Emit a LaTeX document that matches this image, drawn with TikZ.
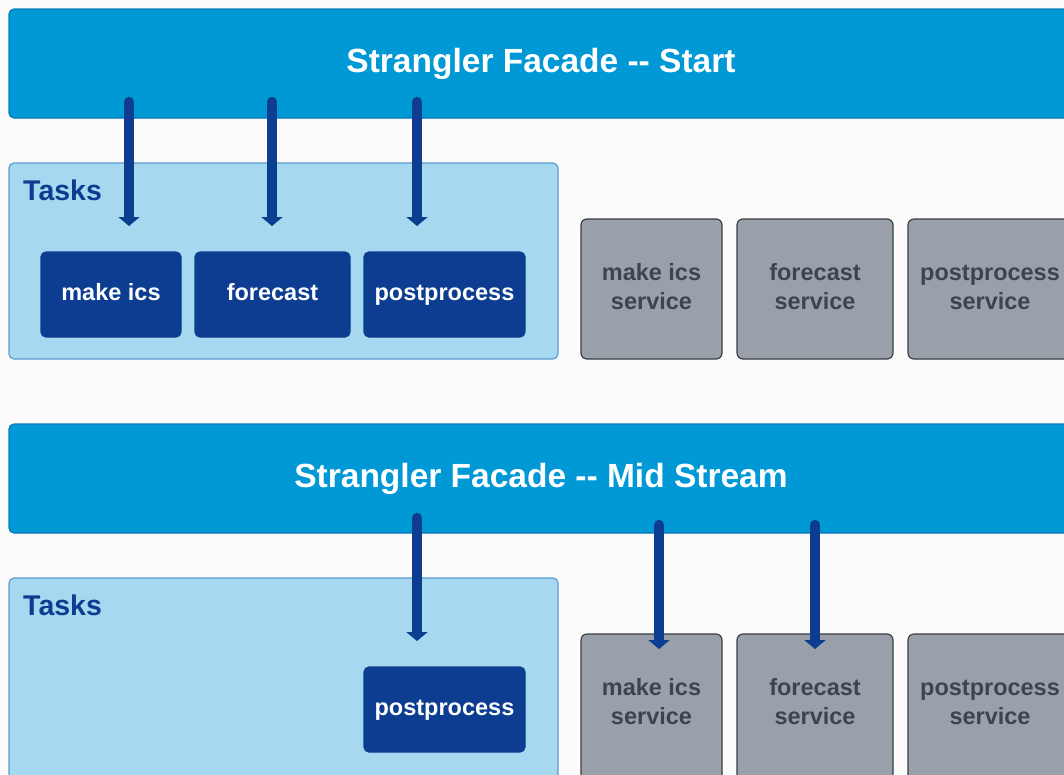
\documentclass[tikz,border=0pt]{standalone}
\usepackage{fontspec}
\setmainfont{Liberation Sans}
\usetikzlibrary{arrows.meta}
\definecolor{bgc}{HTML}{FBFBFB}
\definecolor{facadefill}{HTML}{0099D6}
\definecolor{facadeline}{HTML}{0A78B8}
\definecolor{tasksfill}{HTML}{A6D8EF}
\definecolor{tasksline}{HTML}{5A9BCF}
\definecolor{darkblue}{HTML}{0C3D91}
\definecolor{servfill}{HTML}{9AA0AA}
\definecolor{servline}{HTML}{3A3E45}
\definecolor{servtext}{HTML}{3D4451}
\tikzset{
  box/.style={rectangle, anchor=north west, outer sep=0pt, inner sep=0pt, line width=1.2pt},
  facadebox/.style={box, draw=facadeline, fill=facadefill, rounded corners=5pt,
    text=white, font=\bfseries\fontsize{33.5}{36}\selectfont},
  tasksbox/.style={box, draw=tasksline, fill=tasksfill, rounded corners=5pt},
  taskslabel/.style={anchor=west, inner sep=0pt, text=darkblue, font=\bfseries\fontsize{28.5}{30}\selectfont},
  taskbox/.style={box, draw=darkblue, fill=darkblue, rounded corners=5pt,
    text=white, text height=17pt, text depth=5pt, font=\bfseries\fontsize{23.5}{26}\selectfont},
  servbox/.style={box, draw=servline, fill=servfill, rounded corners=6pt,
    text=servtext, align=center, font=\bfseries\fontsize{23.5}{29}\selectfont},
  arr/.style={draw=darkblue, line width=10.5pt, line cap=round, -{Triangle[width=21pt,length=9pt]}},
}
\begin{document}
\begin{tikzpicture}[x=1pt,y=-1pt]
\useasboundingbox (0,0) rectangle (1064,774);
\clip (0,0) rectangle (1064,774);
\fill[bgc] (0,0) rectangle (1064,774);

% ---------- Start ----------
\node[facadebox, minimum width=1064pt, minimum height=109pt] (f1) at (9,9) {Strangler Facade -{}- Start};
\node[tasksbox, minimum width=549pt, minimum height=196pt] (tk1) at (9,163) {};
\node[taskslabel] (tl1) at (23,190) {Tasks};
\node[taskbox, minimum width=140pt, minimum height=85pt] (mk1) at (41,252) {make ics};
\node[taskbox, minimum width=155pt, minimum height=85pt] (fc1) at (195,252) {forecast};
\node[taskbox, minimum width=161pt, minimum height=85pt] (pp1) at (364,252) {postprocess};
\node[servbox, minimum width=141pt, minimum height=140pt] (ms1) at (581,219) {};
\node[servbox, minimum width=156pt, minimum height=140pt] (fs1) at (737,219) {};
\node[servbox, minimum width=164pt, minimum height=140pt] (ps1) at (908,219) {};
\node[servbox, draw=none, fill=none, anchor=center] (ms1t) at (651.5,287) {make ics\\service};
\node[servbox, draw=none, fill=none, anchor=center] (fs1t) at (815,287) {forecast\\service};
\node[servbox, draw=none, fill=none, anchor=center] (ps1t) at (990,287) {postprocess\\service};

\coordinate (xa) at (129,0);
\coordinate (xb) at (272,0);
\coordinate (xc) at (417,0);
\coordinate (xd) at (659,0);
\coordinate (xe) at (815,0);

\draw[arr, shorten <=-16pt, shorten >=26pt] (f1.south -| xa) -- (mk1.north -| xa);
\draw[arr, shorten <=-16pt, shorten >=26pt] (f1.south -| xb) -- (fc1.north -| xb);
\draw[arr, shorten <=-16pt, shorten >=26pt] (f1.south -| xc) -- (pp1.north -| xc);

% ---------- Mid Stream ----------
\node[facadebox, minimum width=1064pt, minimum height=109pt] (f2) at (9,424) {Strangler Facade -{}- Mid Stream};
\node[tasksbox, minimum width=549pt, minimum height=210pt] (tk2) at (9,578) {};
\node[taskslabel] (tl2) at (23,605) {Tasks};
\node[taskbox, minimum width=161pt, minimum height=85pt] (pp2) at (364,667) {postprocess};
\node[servbox, minimum width=141pt, minimum height=160pt] (ms2) at (581,634) {};
\node[servbox, minimum width=156pt, minimum height=160pt] (fs2) at (737,634) {};
\node[servbox, minimum width=164pt, minimum height=160pt] (ps2) at (908,634) {};
\node[servbox, draw=none, fill=none, anchor=center] (ms2t) at (651.5,702) {make ics\\service};
\node[servbox, draw=none, fill=none, anchor=center] (fs2t) at (815,702) {forecast\\service};
\node[servbox, draw=none, fill=none, anchor=center] (ps2t) at (990,702) {postprocess\\service};

\draw[arr, shorten <=-15pt, shorten >=26pt] (f2.south -| xc) -- (pp2.north -| xc);
\draw[arr, shorten <=-8pt, shorten >=-15pt] (f2.south -| xd) -- (ms2.north -| xd);
\draw[arr, shorten <=-8pt, shorten >=-15pt] (f2.south -| xe) -- (fs2.north -| xe);
\end{tikzpicture}
\end{document}
